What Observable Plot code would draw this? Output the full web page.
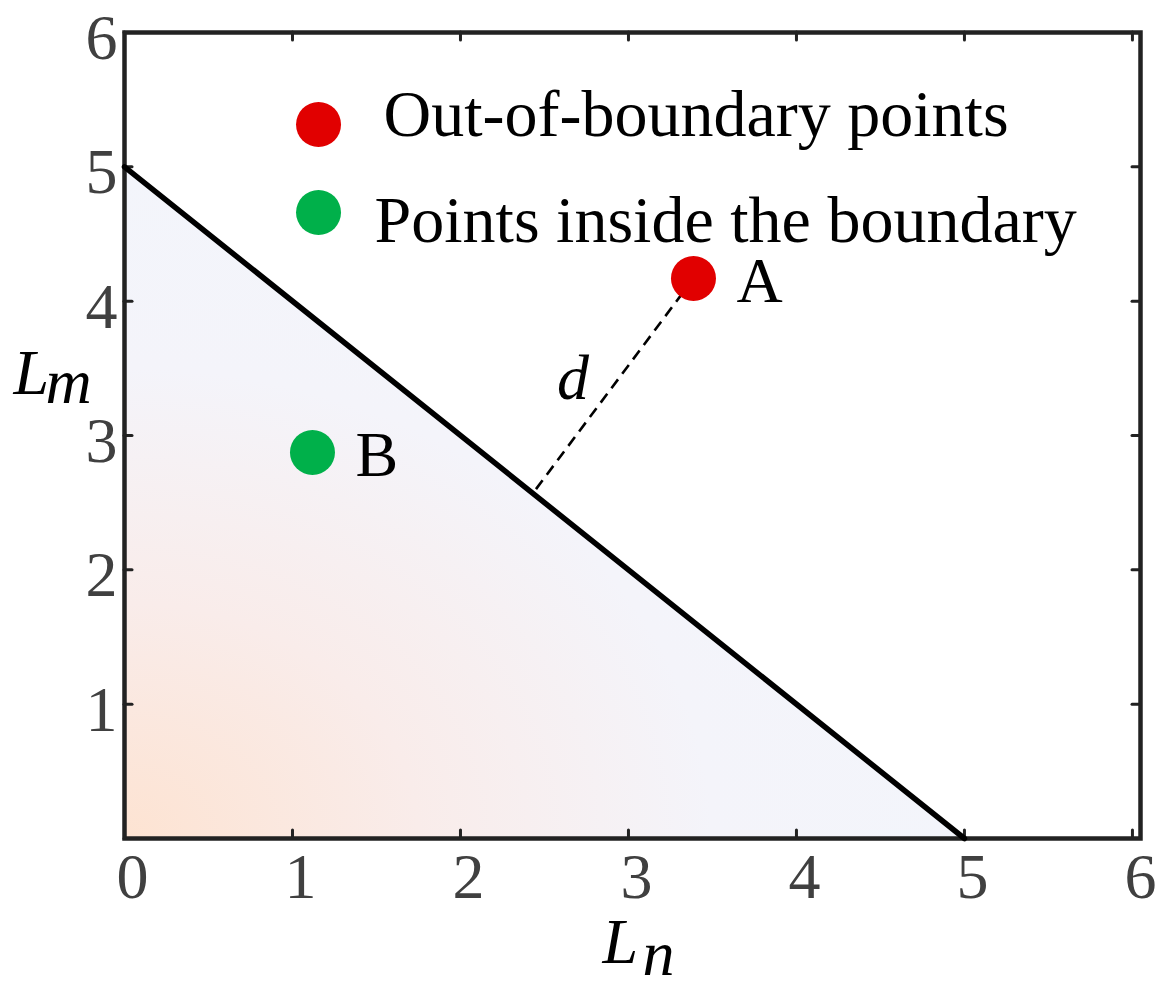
<!DOCTYPE html>
<html>
<head>
<meta charset="utf-8">
<script src="https://cdn.jsdelivr.net/npm/d3@7"></script>
<script src="https://cdn.jsdelivr.net/npm/@observablehq/plot@0.6"></script>
<style>
  html, body { margin: 0; padding: 0; background: #ffffff; }
  #chart { width: 1171px; height: 990px; }
</style>
</head>
<body>
<div id="chart"></div>
<script>
// ---- data ----
const xTicks = [0, 1, 2, 3, 4, 5, 6];
const xTickLabels = ["0", "1", "2", "3", "4", "5", "6"];
const yTicks = [0, 1, 2, 3, 4, 5, 6];
const yTickLabelValues = [1, 2, 3, 4, 5, 6];

// boundary line L_n + L_m = 5
const boundaryLn = [0, 5];
const boundaryLm = [5, 0];

// sample points
const pointNames = ["A", "B"];
const pointLn = [3.387, 1.119];
const pointLm = [4.169, 2.874];
const pointClass = ["out", "in"];

// distance d from A to the boundary
const distFromLn = [3.387];
const distFromLm = [4.169];
const distToLn = [2.44];
const distToLm = [2.585];
const distLabel = ["d"];

// legend
const legendLabels = ["Out-of-boundary points", "Points inside the boundary"];
const legendClass = ["out", "in"];
const legendLn = [1.155, 1.155];
const legendLm = [5.315, 4.660];

// ---- tables ----
const boundary = boundaryLn.map((x, i) => ({x, y: boundaryLm[i]}));
const points = pointNames.map((name, i) => ({name, x: pointLn[i], y: pointLm[i], cls: pointClass[i]}));
const dist = distLabel.map((label, i) => ({
  label, x1: distFromLn[i], y1: distFromLm[i], x2: distToLn[i], y2: distToLm[i],
  mx: (distFromLn[i] + distToLn[i]) / 2, my: (distFromLm[i] + distToLm[i]) / 2
}));
const legend = legendLabels.map((label, i) => ({label, cls: legendClass[i], x: legendLn[i], y: legendLm[i]}));

const W = 1171, H = 990;
const mL = 124, mR = 31, mT = 32, mB = 152;
const innerH = H - mT - mB;
const innerW = W - mL - mR;
const tickLen = 8;
const serif = "Liberation Serif, Times New Roman, serif";
const colorScale = {domain: ["out", "in"], range: ["#e10000", "#00b04a"]};

const chart = Plot.plot({
  width: W,
  height: H,
  marginLeft: mL,
  marginRight: mR,
  marginTop: mT,
  marginBottom: mB,
  x: {domain: [0, 6.048]},
  y: {domain: [0, 6]},
  color: colorScale,
  style: {fontFamily: serif, background: "#ffffff", overflow: "visible"},
  marks: [
    // shaded feasible region
    Plot.areaY(boundary, {x: "x", y: "y", fill: "url(#regionGrad)"}),
    // inward ticks on all four sides
    Plot.tickX(xTicks, {x: d => d, insetTop: innerH - tickLen, stroke: "#222", strokeWidth: 3, strokeLinecap: "round"}),
    Plot.tickX(xTicks, {x: d => d, insetBottom: innerH - tickLen, stroke: "#222", strokeWidth: 3, strokeLinecap: "round"}),
    Plot.tickY(yTicks, {y: d => d, insetRight: innerW - tickLen, stroke: "#222", strokeWidth: 3, strokeLinecap: "round"}),
    Plot.tickY(yTicks, {y: d => d, insetLeft: innerW - tickLen, stroke: "#222", strokeWidth: 3, strokeLinecap: "round"}),
    Plot.frame({stroke: "#222", strokeWidth: 4.5}),
    // tick labels
    Plot.axisX(xTicks, {anchor: "bottom", tickSize: 0, tickPadding: 14, dx: 8, fontSize: 64, color: "#404040", label: null, tickFormat: (d, i) => xTickLabels[i]}),
    Plot.axisY(yTickLabelValues, {anchor: "left", tickSize: 0, tickPadding: 7, dy: 6, fontSize: 64, color: "#404040", label: null, tickFormat: d => String(d)}),
    // boundary line
    Plot.line(boundary, {x: "x", y: "y", stroke: "#000", strokeWidth: 5.5}),
    // distance d
    Plot.link(dist, {x1: "x1", y1: "y1", x2: "x2", y2: "y2", stroke: "#000", strokeWidth: 2.6, strokeDasharray: "11,7"}),
    Plot.text(dist, {x: "mx", y: "my", text: "label", dx: -41, dy: -6, fontSize: 64, fontStyle: "italic", fill: "#000", textAnchor: "middle"}),
    // points
    Plot.dot(points, {x: "x", y: "y", r: 22.5, fill: "cls", stroke: null}),
    Plot.text(points, {x: "x", y: "y", text: "name", dx: 43, dy: 3, fontSize: 64, fill: "#000", textAnchor: "start"}),
    // legend
    Plot.dot(legend, {x: "x", y: "y", r: 22.5, fill: "cls", stroke: null}),
    Plot.text(legend.slice(0, 1), {x: "x", y: "y", text: "label", dx: 65, dy: -10, fontSize: 66, fill: "#000", textAnchor: "start"}),
    Plot.text(legend.slice(1, 2), {x: "x", y: "y", text: "label", dx: 56, dy: 8, fontSize: 66, fill: "#000", textAnchor: "start"}),
    // axis titles
    Plot.text(["L"], {frameAnchor: "bottom", lineAnchor: "middle", text: d => d, dx: -30, dy: 104, fontSize: 64, fontStyle: "italic", fill: "#000", textAnchor: "start"}),
    Plot.text(["n"], {frameAnchor: "bottom", lineAnchor: "middle", text: d => d, dx: 10, dy: 116, fontSize: 64, fontStyle: "italic", fill: "#000", textAnchor: "start"}),
    Plot.text(["L"], {frameAnchor: "left", lineAnchor: "middle", text: d => d, dx: -111, dy: -62, fontSize: 64, fontStyle: "italic", fill: "#000", textAnchor: "start"}),
    Plot.text(["m"], {frameAnchor: "left", lineAnchor: "middle", text: d => d, dx: -79, dy: -53, fontSize: 64, fontStyle: "italic", fill: "#000", textAnchor: "start"})
  ]
});

// gradient definition for the shaded region
const defs = d3.select(chart).insert("defs", ":first-child");
const grad = defs.append("radialGradient")
  .attr("id", "regionGrad")
  .attr("gradientUnits", "objectBoundingBox")
  .attr("cx", 0).attr("cy", 1).attr("r", 1);
grad.append("stop").attr("offset", "0").attr("stop-color", "#fde3d2");
grad.append("stop").attr("offset", "0.35").attr("stop-color", "#f9ecea");
grad.append("stop").attr("offset", "0.7").attr("stop-color", "#f4f4fa");
grad.append("stop").attr("offset", "1").attr("stop-color", "#f3f5fb");

document.getElementById("chart").appendChild(chart);
</script>
</body>
</html>
